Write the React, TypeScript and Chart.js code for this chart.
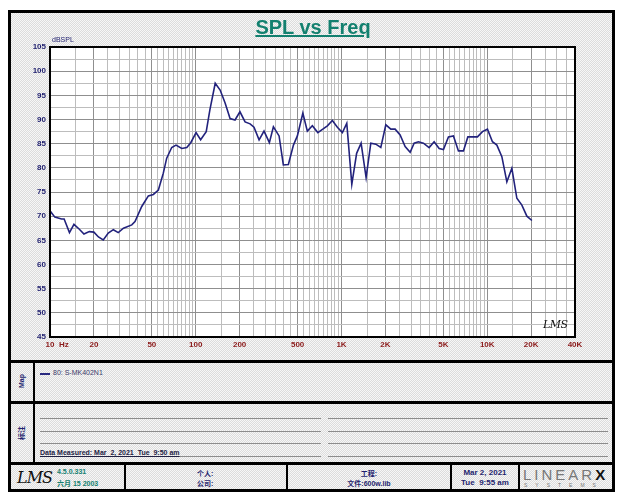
import React, { useEffect, useRef } from 'react';
import { Chart, registerables } from 'chart.js';

Chart.register(...registerables);

const freqHz = [10, 10.8, 12.0, 12.5, 13.6, 14.6, 15.9, 17.1, 18.6, 20.0, 21.5, 23.2, 25.1, 27.2, 29.4, 31.9, 36.4, 38.3, 42.6, 47.3, 51.2, 55.4, 59.9, 63.2, 68.4, 73.2, 80.2, 86.8, 92.4, 100.5, 108, 118, 125, 136, 147, 159, 172, 186, 201, 218, 236, 251, 272, 294, 320, 341, 373, 399, 432, 468, 498, 543, 583, 631, 688, 744, 800, 866, 937, 1014, 1087, 1177, 1270, 1363, 1475, 1589, 1720, 1861, 2014, 2180, 2333, 2525, 2733, 2958, 3150, 3372, 3648, 3993, 4321, 4677, 5006, 5417, 5862, 6344, 6865, 7360, 7967, 8565, 9272, 10032, 10857, 11640, 12597, 13630, 14753, 15965, 17280, 18700, 20238];

const splDb = [71.1, 69.8, 69.4, 69.4, 66.6, 68.3, 67.3, 66.3, 66.8, 66.7, 65.7, 65.1, 66.5, 67.2, 66.6, 67.5, 68.2, 68.9, 72.0, 74.2, 74.5, 75.4, 78.9, 82.0, 84.2, 84.7, 84.0, 84.2, 85.2, 87.3, 85.8, 87.5, 92.0, 97.5, 96.1, 93.4, 90.2, 89.9, 91.6, 89.5, 89.1, 88.4, 85.8, 87.6, 85.2, 88.5, 86.6, 80.6, 80.7, 84.7, 86.6, 91.3, 87.6, 88.7, 87.3, 88.0, 88.7, 89.8, 88.4, 87.3, 89.2, 76.6, 83.0, 85.1, 78.0, 85.1, 84.9, 84.2, 88.9, 88.0, 88.0, 86.8, 84.4, 83.2, 85.1, 85.4, 85.1, 84.2, 85.4, 84.0, 83.8, 86.4, 86.6, 83.5, 83.5, 86.4, 86.4, 86.4, 87.5, 88.0, 85.4, 84.7, 82.3, 77.1, 79.9, 73.7, 72.3, 70.0, 69.1];

const xLabelValues = [10, 20, 50, 100, 200, 500, 1000, 2000, 5000, 10000, 20000, 40000];
const xLabelTexts = ['10', '20', '50', '100', '200', '500', '1K', '2K', '5K', '10K', '20K', '40K'];
const yMin = 45;
const yMax = 105;
const yStep = 2.5;
const seriesName = '80: S-MK402N1';
const titleText = 'SPL vs Freq';
const yTitle = 'dBSPL';

function buildXTicks(): number[] {
  const out: number[] = [];
  for (const p of [1, 10, 100]) {
    for (let m = 10; m <= 95; m += 5) out.push(m * p);
  }
  for (let v = 10000; v <= 40000; v += 5000) out.push(v);
  return out;
}

const framePlugin = {
  id: 'plotFrame',
  beforeDraw(chart: any) {
    const { ctx, chartArea: a } = chart;
    ctx.save();
    ctx.fillStyle = '#ffffff';
    ctx.fillRect(a.left, a.top, a.right - a.left, a.bottom - a.top);
    ctx.restore();
  },
  afterDraw(chart: any) {
    const { ctx, chartArea: a } = chart;
    ctx.save();
    ctx.strokeStyle = '#000';
    ctx.lineWidth = 2;
    ctx.strokeRect(a.left, a.top, a.right - a.left, a.bottom - a.top);
    ctx.restore();
  },
};

const navy = '#1f1f6e';
const teal = '#13806f';
const dither = 'repeating-conic-gradient(#dcdcdc 0% 25%, #f7f7f7 0% 50%) 0 0 / 2px 2px';

const A = (l: number, t: number, extra: React.CSSProperties = {}): React.CSSProperties => ({
  position: 'absolute',
  left: l,
  top: t,
  ...extra,
});

export default function App() {
  const ref = useRef<HTMLCanvasElement | null>(null);

  useEffect(() => {
    if (!ref.current) return;
    const labelMap: Record<number, string> = {};
    xLabelValues.forEach((v, i) => (labelMap[v] = xLabelTexts[i]));
    const major = new Set(xLabelValues);
    const xTicks = buildXTicks();
    const chart = new Chart(ref.current, {
      type: 'line',
      data: {
        datasets: [
          {
            label: seriesName,
            data: freqHz.map((f, i) => ({ x: f, y: splDb[i] })),
            borderColor: '#22227c',
            borderWidth: 1.6,
            pointRadius: 0,
            tension: 0,
            fill: false,
          },
        ],
      },
      options: {
        animation: false,
        responsive: false,
        maintainAspectRatio: false,
        layout: { padding: { left: 0, right: 51, top: 47, bottom: 0 } },
        plugins: { legend: { display: false }, tooltip: { enabled: false } },
        scales: {
          x: {
            type: 'logarithmic',
            min: 10,
            max: 40000,
            afterBuildTicks: (axis: any) => {
              axis.ticks = xTicks.map((v) => ({ value: v }));
            },
            afterFit: (axis: any) => {
              axis.height = 25;
            },
            ticks: {
              autoSkip: false,
              maxRotation: 0,
              minRotation: 0,
              padding: 3,
              color: '#8b1a1a',
              font: { family: 'Liberation Sans', size: 8, weight: 'bold' },
              callback: (v: any) => labelMap[Number(v)] ?? '',
            },
            grid: {
              color: (c: any) => (c.tick && major.has(c.tick.value) ? '#8f8f8f' : '#bdbdbd'),
              lineWidth: 1,
              drawTicks: false,
            },
            border: { display: false },
          },
          y: {
            min: yMin,
            max: yMax,
            afterFit: (axis: any) => {
              axis.width = 50;
            },
            ticks: {
              stepSize: yStep,
              autoSkip: false,
              padding: 4,
              color: navy,
              font: { family: 'Liberation Sans', size: 8, weight: 'bold' },
              callback: (v: any) => (Number(v) % 5 === 0 ? String(v) : ''),
            },
            grid: {
              color: (c: any) => (c.tick && c.tick.value % 5 === 0 ? '#8f8f8f' : '#bdbdbd'),
              lineWidth: 1,
              drawTicks: false,
            },
            border: { display: false },
          },
        },
      },
      plugins: [framePlugin],
    } as any);
    return () => chart.destroy();
  }, []);

  const small: React.CSSProperties = { fontFamily: 'Liberation Sans, Noto Sans CJK SC', fontSize: 8, whiteSpace: 'nowrap' };
  const hLine = (t: number, h = 3): React.CSSProperties => A(8, t, { width: 607, height: h, background: '#000' });
  const vLine = (l: number, t: number, h: number, w = 2): React.CSSProperties => A(l, t, { width: w, height: h, background: '#000' });
  const grayLine = (l: number, t: number, w: number): React.CSSProperties => A(l, t, { width: w, height: 1, background: '#8c8c8c' });
  const noteRows = [418, 431, 443, 456];

  return (
    <div style={{ position: 'absolute', left: 0, top: 0, width: 626, height: 500, background: '#fff', overflow: 'hidden' }}>
      <div style={A(8, 10, { width: 607, height: 482, border: '3px solid #000', boxSizing: 'border-box', background: dither })} />
      <canvas ref={ref} width={626} height={362} style={A(0, 0, { width: 626, height: 362, zIndex: 1 })} />
      <div
        style={A(0, 16, {
          width: 626,
          textAlign: 'center',
          fontFamily: 'Liberation Sans',
          fontWeight: 'bold',
          fontSize: 20,
          color: teal,
          textDecoration: 'underline',
          zIndex: 2,
        })}
      >
        {titleText}
      </div>
      <div style={A(52, 36, { ...small, fontSize: 7, color: navy, zIndex: 2 })}>{yTitle}</div>
      <div style={A(59, 340, { ...small, fontWeight: 'bold', color: '#8b1a1a', zIndex: 2 })}>Hz</div>
      <div
        style={A(543, 318, {
          fontFamily: 'DejaVu Serif',
          fontStyle: 'italic',
          fontSize: 11,
          color: '#111',
          zIndex: 2,
          letterSpacing: -0.5,
        })}
      >
        LMS
      </div>

      <div style={hLine(360)} />
      <div style={hLine(401)} />
      <div style={hLine(462)} />
      <div style={vLine(33, 362, 101)} />

      <div style={A(21, 381, { ...small, fontSize: 7, fontWeight: 'bold', color: navy, transform: 'translate(-50%,-50%) rotate(-90deg)' })}>Map</div>
      <div style={A(21, 433, { ...small, fontSize: 7, fontWeight: 'bold', color: navy, transform: 'translate(-50%,-50%) rotate(-90deg)' })}>标注</div>

      <div style={A(40, 373, { width: 10, height: 2, background: '#2a2a80' })} />
      <div style={A(53, 369, { ...small, fontSize: 7, color: '#3a3a6a' })}>{seriesName}</div>

      {noteRows.map((t) => (
        <React.Fragment key={t}>
          <div style={grayLine(40, t, 281)} />
          <div style={grayLine(328, t, 280)} />
        </React.Fragment>
      ))}
      <div style={A(40, 449, { ...small, fontSize: 7, fontWeight: 'bold', color: '#222244', textDecoration: 'underline' })}>
        Data Measured: Mar&nbsp;&nbsp;2, 2021&nbsp;&nbsp;Tue&nbsp;&nbsp;9:50 am
      </div>

      <div style={vLine(124, 464, 26)} />
      <div style={vLine(286, 464, 26)} />
      <div style={vLine(450, 464, 26)} />
      <div style={vLine(518, 464, 26)} />

      <div style={A(17, 468, { fontFamily: 'DejaVu Serif', fontStyle: 'italic', fontSize: 16, color: '#111', letterSpacing: -1 })}>LMS</div>
      <div style={A(57, 468, { ...small, fontSize: 7, color: teal, fontWeight: 'bold' })}>4.5.0.331</div>
      <div style={A(57, 478, { ...small, fontSize: 7, color: teal, fontWeight: 'bold' })}>六月 15 2003</div>

      <div style={A(197, 468, { ...small, fontSize: 7, color: navy, fontWeight: 'bold' })}>个人:</div>
      <div style={A(197, 478, { ...small, fontSize: 7, color: navy, fontWeight: 'bold' })}>公司:</div>

      <div style={A(288, 468, { ...small, fontSize: 7, width: 162, textAlign: 'center', color: navy, fontWeight: 'bold' })}>工程:</div>
      <div style={A(288, 478, { ...small, fontSize: 7, width: 162, textAlign: 'center', color: navy, fontWeight: 'bold' })}>文件:600w.lib</div>

      <div style={A(452, 468, { ...small, fontSize: 8, width: 66, textAlign: 'center', color: navy, fontWeight: 'bold' })}>Mar 2, 2021</div>
      <div style={A(452, 478, { ...small, fontSize: 8, width: 66, textAlign: 'center', color: navy, fontWeight: 'bold' })}>Tue&nbsp; 9:55 am</div>

      <div style={A(523, 466, { fontFamily: 'Liberation Sans', fontSize: 15, letterSpacing: 3, color: '#777', whiteSpace: 'nowrap' })}>
        LINEAR<span style={{ fontWeight: 'bold', color: '#111' }}>X</span>
      </div>
      <div style={A(524, 482, { ...small, fontSize: 5, letterSpacing: 8, color: '#777' })}>SYSTEMS</div>
    </div>
  );
}
